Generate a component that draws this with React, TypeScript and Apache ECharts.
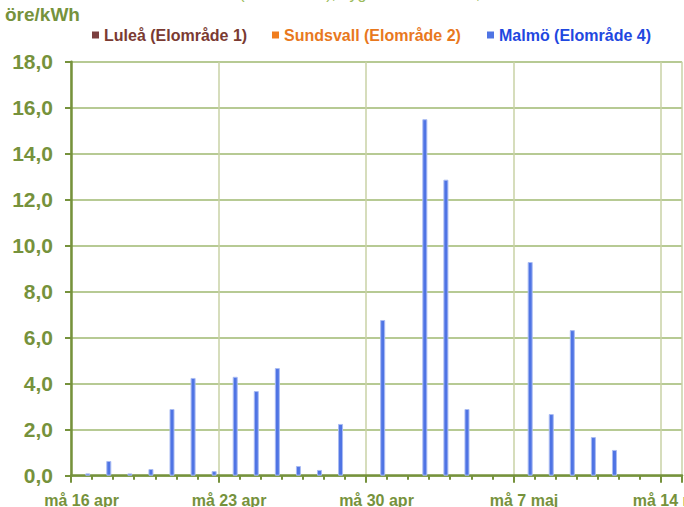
import React, { useEffect, useRef } from "react";
import * as echarts from "echarts";

const days: string[] = [
  "16 apr", "17 apr", "18 apr", "19 apr", "20 apr", "21 apr", "22 apr",
  "23 apr", "24 apr", "25 apr", "26 apr", "27 apr", "28 apr", "29 apr",
  "30 apr", "1 maj", "2 maj", "3 maj", "4 maj", "5 maj", "6 maj",
  "7 maj", "8 maj", "9 maj", "10 maj", "11 maj", "12 maj", "13 maj", "14 maj",
];

const lulea: number[] = days.map(() => 0);
const sundsvall: number[] = days.map(() => 0);
const malmo: number[] = [
  0.1, 0.64, 0.1, 0.29, 2.9, 4.25, 0.2,
  4.3, 3.68, 4.68, 0.42, 0.25, 2.25, 0,
  6.77, 0, 15.5, 12.87, 2.9, 0, 0,
  9.29, 2.68, 6.33, 1.68, 1.12, 0, 0, 0,
];

const seriesNames = ["Luleå (Elområde 1)", "Sundsvall (Elområde 2)", "Malmö (Elområde 4)"];
const yTicks = { min: 0, max: 18, interval: 2 };
const unitLabel = "öre/kWh";
const titleText = "Stockholm (Elområde 3), dygnsmedelvärden, öre/kWh";

const GREEN = "#76923c";
const FONT = "'Liberation Sans', Arial, sans-serif";

export default function App() {
  const ref = useRef<HTMLDivElement>(null);
  useEffect(() => {
    if (!ref.current) return;
    const chart = echarts.init(ref.current, undefined, { renderer: "svg" });
    const legendBase = {
      padding: 0,
      top: 27,
      icon: "rect",
      itemWidth: 7,
      itemHeight: 7,
      selectedMode: false,
    };
    const legendColors = ["#7a3a32", "#e8781e", "#1f48e0"];
    const legendLefts = [92, 272, 487];
    chart.setOption({
      animation: false,
      textStyle: { fontFamily: FONT },
      color: ["#7b3f3f", "#f07d1e", "#5078e6"],
      legend: seriesNames.map((n, i) => ({
        ...legendBase,
        left: legendLefts[i],
        data: [n],
        textStyle: {
          color: legendColors[i],
          fontSize: 16,
          fontWeight: "bold",
          fontFamily: FONT,
        },
      })),
      graphic: [
        {
          type: "text",
          x: 160,
          y: 1,
          style: {
            text: titleText,
            fill: "#9bbb59",
            font: `16px ${FONT}`,
            verticalAlign: "bottom",
          },
        },
        {
          type: "text",
          x: 5,
          y: 5,
          style: {
            text: unitLabel,
            fill: GREEN,
            font: `bold 19px ${FONT}`,
          },
        },
      ],
      grid: {
        left: 71,
        right: 2,
        top: 61.7,
        bottom: 31.3,
        containLabel: false,
        outerBoundsMode: "none",
      },
      xAxis: [
        {
          type: "category",
          data: days,
          boundaryGap: true,
          axisLine: { lineStyle: { color: GREEN, width: 2.5 } },
          axisTick: { show: true, interval: 0, length: 4, lineStyle: { color: GREEN, width: 2 } },
          axisLabel: {
            interval: 6,
            margin: 17,
            color: GREEN,
            fontSize: 16,
            fontWeight: "bold",
            fontFamily: FONT,
            hideOverlap: false,
            formatter: (v: string) => "må " + v,
          },
          splitLine: {
            show: true,
            interval: 6,
            lineStyle: { color: "#c9d2a6", width: 1.5 },
          },
        },
        {
          type: "category",
          data: days,
          boundaryGap: true,
          position: "bottom",
          axisLine: { show: false },
          axisTick: { show: true, interval: 6, length: 7, lineStyle: { color: GREEN, width: 2 } },
          axisLabel: { show: false },
          splitLine: { show: false },
        },
      ],
      yAxis: {
        type: "value",
        min: yTicks.min,
        max: yTicks.max,
        interval: yTicks.interval,
        axisLine: { show: true, lineStyle: { color: GREEN, width: 2.5 } },
        axisTick: { show: true, length: 6, lineStyle: { color: GREEN, width: 2 } },
        axisLabel: {
          margin: 18,
          color: GREEN,
          fontSize: 21,
          fontWeight: "bold",
          fontFamily: FONT,
          formatter: (v: number) => v.toFixed(1).replace(".", ","),
        },
        splitLine: { show: true, lineStyle: { color: "#9fb870", width: 1.5 } },
      },
      series: [
        {
          name: seriesNames[0],
          type: "bar",
          data: lulea,
          barWidth: 5,
          barGap: "24%",
        },
        {
          name: seriesNames[1],
          type: "bar",
          data: sundsvall,
          barWidth: 5,
          barGap: "24%",
        },
        {
          name: seriesNames[2],
          type: "bar",
          barWidth: 5,
          barGap: "24%",
          data: malmo.map((v) => ({
            value: v,
            itemStyle: { borderWidth: v > 0 ? 1 : 0 },
          })),
          itemStyle: { color: "#4f74e4", borderColor: "#a9bbf2" },
        },
      ],
    });
    return () => chart.dispose();
  }, []);
  return (
    <div
      ref={ref}
      style={{ position: "fixed", left: 0, top: 0, width: 684, height: 507, background: "#fff" }}
    />
  );
}
